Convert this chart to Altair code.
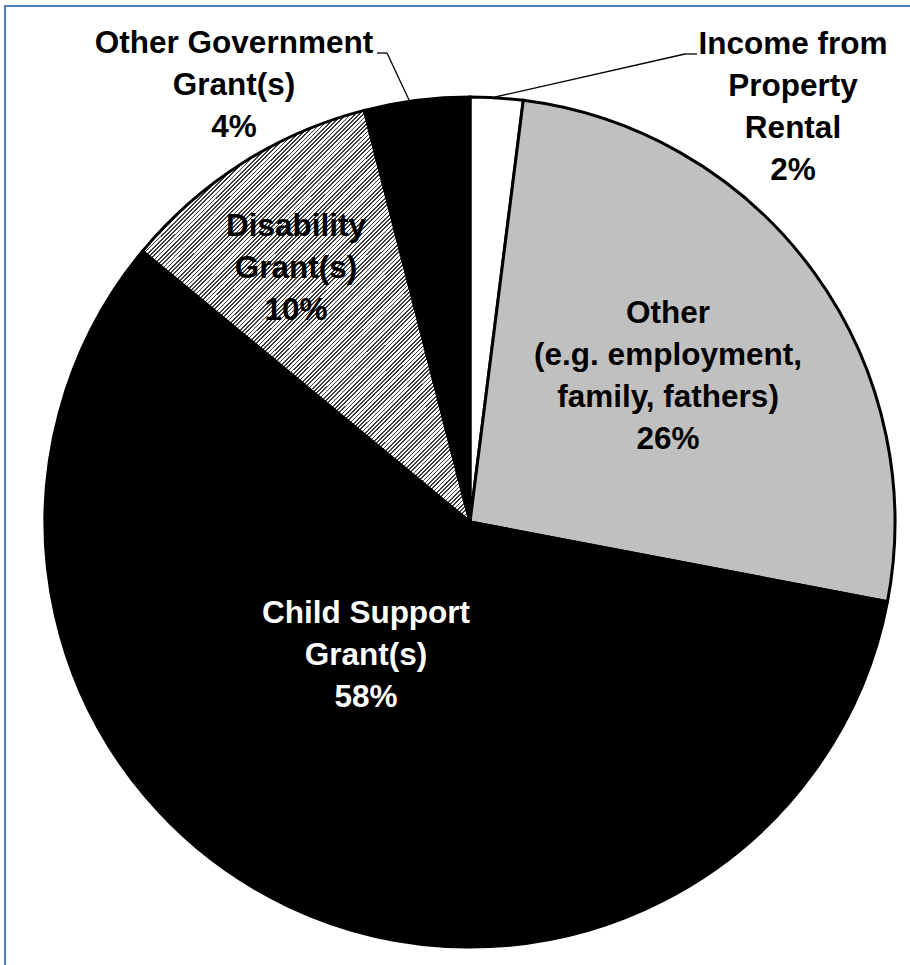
import altair as alt
import pandas as pd

# ---- data (clockwise from 12 o'clock) ----
keys = ["income", "other", "child", "disability", "othergov"]
names = [
    "Income from\nProperty\nRental",
    "Other\n(e.g. employment,\nfamily, fathers)",
    "Child Support\nGrant(s)",
    "Disability\nGrant(s)",
    "Other Government\nGrant(s)",
]
shares = [2, 26, 58, 10, 4]

# ---- styles ----
fills = ["#ffffff", "#c0c0c0", "#000000", "#8a8a8a", "#000000"]
FONT = "Liberation Sans, Arial, sans-serif"
FSIZE = 31.5
LH = 42

df = pd.DataFrame({"key": keys, "name": names, "share": shares, "idx": list(range(len(keys)))})

# diagonal hatch for the Disability slice (style only)
n_periods = 175
stops = []
for i in range(n_periods):
    a = i / n_periods
    b = (i + 0.4) / n_periods
    c = (i + 1) / n_periods
    stops += [
        {"offset": round(a, 5), "color": "#3c3c3c"},
        {"offset": round(b, 5), "color": "#3c3c3c"},
        {"offset": round(b, 5), "color": "#ffffff"},
        {"offset": round(c, 5), "color": "#ffffff"},
    ]
hatch = {"gradient": "linear", "x1": 0, "y1": 0, "x2": 0.873, "y2": 1.1, "stops": stops}

CX, CY, R = 470, 522, 425

pie = alt.Chart(df).mark_arc(outerRadius=R, stroke="black", strokeWidth=3).encode(
    theta=alt.Theta("share:Q", stack=True),
    order=alt.Order("idx:Q"),
    color=alt.condition(
        alt.datum.key == "disability",
        alt.value(hatch),
        alt.Color("key:N", scale=alt.Scale(domain=keys, range=fills), legend=None),
    ),
    x=alt.value(CX),
    y=alt.value(CY),
)

label_pos = {
    "othergov": (234, 53, "black"),
    "income": (793, 54, "black"),
    "disability": (296, 236, "black"),
    "other": (668, 323, "black"),
    "child": (366, 623, "white"),
}

layers = [pie]
for k, (px, py, col) in label_pos.items():
    t = (
        alt.Chart(df)
        .transform_filter(alt.datum.key == k)
        .transform_calculate(label="datum.name + '\\n' + datum.share + '%'")
        .mark_text(
            font=FONT, fontSize=FSIZE, fontWeight="bold", color=col,
            lineBreak="\n", lineHeight=LH, align="center", baseline="alphabetic",
        )
        .encode(text="label:N", x=alt.value(px), y=alt.value(py))
    )
    layers.append(t)

one = alt.Data(values=[{}])
leaders = [
    (377, 53, 387, 53), (387, 53, 409, 100),
    (697, 54, 685, 54), (685, 54, 495, 97),
]
for x1, y1, x2, y2 in leaders:
    layers.append(
        alt.Chart(one).mark_rule(color="black", strokeWidth=1.3).encode(
            x=alt.value(x1), y=alt.value(y1), x2=alt.value(x2), y2=alt.value(y2)
        )
    )

border = alt.Chart(one).mark_rect(fillOpacity=0, stroke="#4f81bd", strokeWidth=2).encode(
    x=alt.value(5), x2=alt.value(920), y=alt.value(6), y2=alt.value(975)
)
layers.append(border)

chart = (
    alt.layer(*layers)
    .properties(width=910, height=965, padding=0, autosize=alt.AutoSizeParams(type="none"), background="white")
    .configure_view(stroke=None)
)

chart.save("out.html", embed_options={"renderer": "svg", "actions": False})
